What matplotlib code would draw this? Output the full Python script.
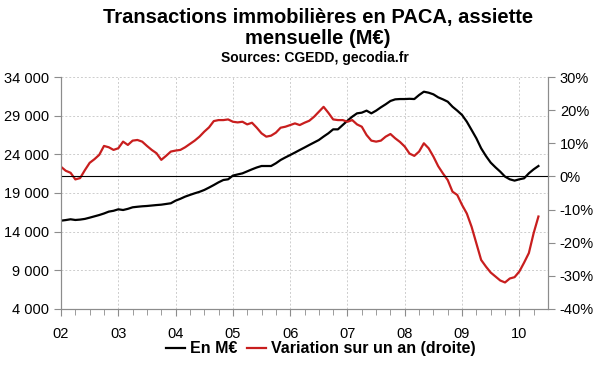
import matplotlib
matplotlib.use("Agg")
import matplotlib.pyplot as plt
import numpy as np

plt.rcParams['font.family'] = ['Liberation Sans', 'DejaVu Sans']

# monthly data, Jan 2002 -> May 2010
montant = [15420, 15500, 15600, 15510, 15560, 15650, 15810, 15980, 16150, 16350,
           16590, 16700, 16890, 16800, 16950, 17150, 17220, 17280, 17320, 17380,
           17440, 17490, 17580, 17670, 18010, 18250, 18530, 18750, 18960, 19150,
           19390, 19700, 20030, 20380, 20680, 20770, 21250, 21400, 21540, 21800,
           22060, 22300, 22490, 22490, 22490, 22840, 23270, 23600, 23910, 24230,
           24560, 24880, 25210, 25530, 25850, 26300, 26720, 27230, 27230, 27790,
           28350, 28870, 29300, 29390, 29650, 29300, 29650, 30080, 30470, 30900,
           31110, 31150, 31150, 31180, 31150, 31670, 32100, 31970, 31760, 31370,
           31110, 30810, 30160, 29650, 29090, 28220, 27150, 26070, 24780, 23790,
           22930, 22320, 21760, 21120, 20770, 20600, 20770, 20900, 21550, 22060,
           22490]
variation = [2.9, 1.7, 1.1, -0.9, -0.5, 1.9, 4.1, 5.2, 6.5, 9.2,
             8.8, 8.0, 8.5, 10.5, 9.5, 10.8, 11.0, 10.5, 9.2, 8.0,
             7.0, 5.0, 6.2, 7.5, 7.8, 8.0, 8.8, 9.8, 10.8, 12.0,
             13.5, 14.8, 16.7, 17.0, 17.0, 17.2, 16.5, 16.3, 16.5, 15.7,
             16.2, 14.7, 13.0, 12.0, 12.3, 13.2, 14.7, 15.0, 15.5, 16.0,
             15.5, 16.2, 16.8, 18.0, 19.5, 21.0, 19.2, 17.2, 17.0, 17.0,
             16.5, 17.0, 15.7, 15.0, 12.5, 10.8, 10.5, 10.8, 12.0, 12.8,
             11.5, 10.4, 9.0, 6.9, 6.2, 7.5, 10.0, 8.5, 6.0, 3.1,
             0.9, -1.1, -4.6, -5.6, -8.6, -11.2, -15.2, -20.2, -25.2, -27.2,
             -29.0, -30.2, -31.4, -32.0, -30.8, -30.4, -28.7, -26.0, -23.1, -17.1,
             -12.1]
annees = ["02", "03", "04", "05", "06", "07", "08", "09", "10"]

mois = np.arange(len(montant))
gris = "#8c8c8c"
rouge = "#c81e1e"

fig = plt.figure(figsize=(6, 3.72), dpi=100)
ax = fig.add_axes([0.1017, 0.1694, 0.8116, 0.6236])
ax2 = ax.twinx()

ax.plot(mois, montant, color="black", lw=1.6, label="En M€")
ax2.plot(mois, variation, color=rouge, lw=1.6, label="Variation sur un an (droite)")
ax2.axhline(0, color="black", lw=0.8)

ax.set_xlim(0, 102)
ax.set_ylim(4000, 34000)
ax2.set_ylim(-40, 30)

ax.set_xticks(np.arange(0, 97, 12))
ax.set_xticklabels(annees)
ax.set_xticks(np.arange(0, 102, 3), minor=True)
ax.set_yticks(np.arange(4000, 34001, 5000))
ax.set_yticklabels([f"{v:,}".replace(",", " ") for v in range(4000, 34001, 5000)])
ax2.set_yticks(np.arange(-40, 31, 10))
ax2.set_yticklabels([f"{v}%" for v in range(-40, 31, 10)])

ax.grid(True, which="major", color="#cdcdcd", ls=(0, (2, 2)), lw=0.7)
for a in (ax, ax2):
    a.spines["top"].set_visible(False)
    for s in ("left", "right", "bottom"):
        a.spines[s].set_color(gris)
    a.tick_params(which="both", color=gris, labelsize=10.5, direction="out")
ax.tick_params(axis="x", which="major", length=5, pad=8)
ax.tick_params(axis="x", which="minor", length=4)
ax.tick_params(axis="y", length=5)
ax2.tick_params(axis="y", length=5)

fig.text(0.53, 0.953, "Transactions immobilières en PACA, assiette", ha="center",
         va="center", fontsize=14.5, fontweight="bold")
fig.text(0.53, 0.897, "mensuelle (M€)", ha="center", va="center",
         fontsize=14.5, fontweight="bold")
fig.text(0.525, 0.845, "Sources: CGEDD, gecodia.fr", ha="center", va="center",
         fontsize=10, fontweight="bold")

h1, l1 = ax.get_legend_handles_labels()
h2, l2 = ax2.get_legend_handles_labels()
fig.legend(h1 + h2, l1 + l2, loc="center", bbox_to_anchor=(0.535, 0.062), ncol=2,
           frameon=False, handlelength=1.2, handletextpad=0.3, columnspacing=0.6,
           prop={"weight": "bold", "size": 11.5})

fig.savefig("out.png", dpi=100)
